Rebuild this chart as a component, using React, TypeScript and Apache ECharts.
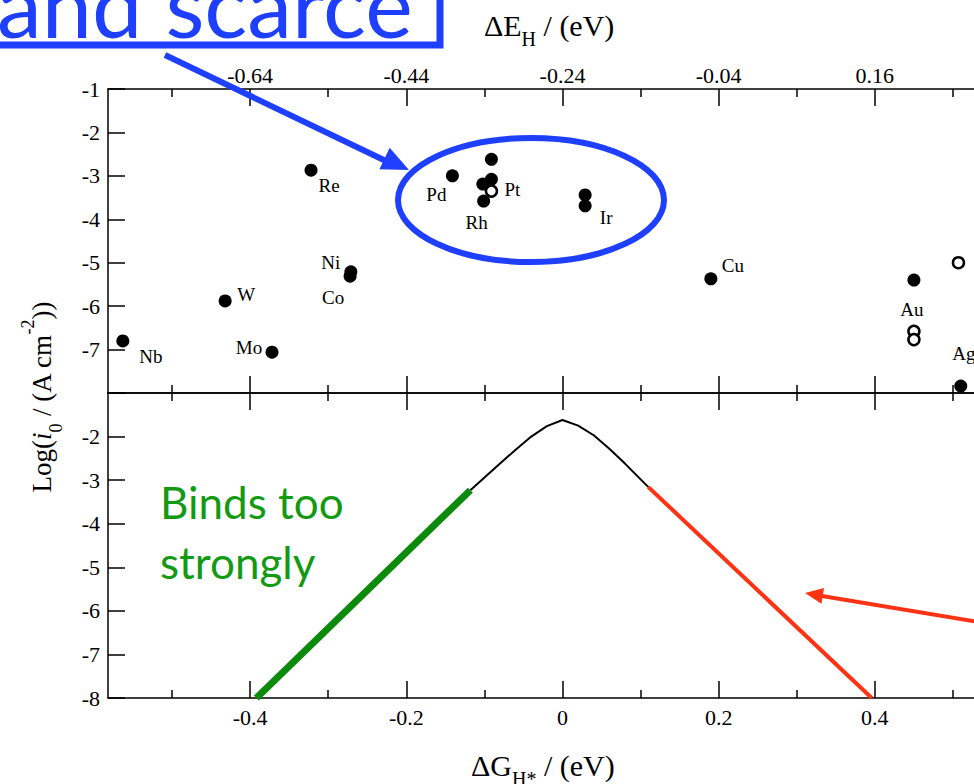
import React, { useEffect, useRef } from 'react';
import * as echarts from 'echarts';

// ---------- data ----------
const xMajorTicks = [-0.4, -0.2, 0, 0.2, 0.4];
const xMinorTicks = [-0.5, -0.3, -0.1, 0.1, 0.3, 0.5];
const topAxisShift = -0.24; // ΔE_H = ΔG_H* - 0.24

const filledNames = ['Nb', 'W', 'Mo', 'Re', 'Ni', 'Co', 'Pd', 'Pt', 'Pt', 'Pt', 'Rh', 'Ir', 'Ir', 'Cu', 'Au', 'Ag'];
const filledDG = [-0.563, -0.432, -0.372, -0.322, -0.271, -0.272, -0.141, -0.091, -0.091, -0.102, -0.101, 0.029, 0.029, 0.19, 0.45, 0.51];
const filledLogI0 = [-6.8, -5.88, -7.06, -2.87, -5.21, -5.31, -3.0, -2.62, -3.08, -3.19, -3.58, -3.44, -3.69, -5.37, -5.4, -7.84];
const filledLabeled = [true, true, true, true, true, true, true, false, false, false, true, false, true, true, true, true];

const openNames = ['Pt', 'Au', 'Au', ''];
const openDG = [-0.091, 0.45, 0.45, 0.507];
const openLogI0 = [-3.35, -6.58, -6.77, -5.0];
const openLabeled = [true, false, false, false];

const volcanoDG = [-0.118, -0.08, -0.06, -0.04, -0.02, 0, 0.02, 0.04, 0.06, 0.08, 0.11];
const volcanoLog = [-3.23, -2.62, -2.3, -2.0, -1.76, -1.62, -1.75, -1.97, -2.28, -2.62, -3.16];
const strongDG = [-0.392, -0.118];
const strongLog = [-8, -3.23];
const weakDG = [0.11, 0.396];
const weakLog = [-3.16, -8];

// ---------- styles ----------
const labelOffsets: Record<string, number[]> = {
  Nb: [28, 16], W: [21, -6], Mo: [-23, -5], Re: [18, 15], Ni: [-20, -9], Co: [-17, 21],
  Pd: [-16, 19], Rh: [-7, 21], Ir: [21, 12], Cu: [22, -13], Au: [-2, 29], Ag: [3, -33], Pt: [21, -2],
};
const SERIF = '"Liberation Serif", "Times New Roman", serif';
const BLUE = '#1f3fff';
const RED = '#ff3214';
const GREEN_LINE = '#0c8a0c';
const GREEN_TEXT = '#139a13';
const X_MIN = -0.582;
const X_MAX = 0.582;
const TICK_FONT = 22;

const lineStyle = { color: '#000', width: 1.5 };

function xAxisPair(gridIndex: number, position: 'top' | 'bottom', labels: boolean, formatter?: (v: number) => string) {
  return [
    {
      type: 'value', gridIndex, position, min: X_MIN, max: X_MAX,
      axisLine: { show: true, onZero: false, lineStyle },
      axisTick: { show: true, inside: true, length: 17, customValues: xMajorTicks, lineStyle },
      axisLabel: {
        show: labels, customValues: xMajorTicks, formatter, color: '#000',
        fontFamily: SERIF, fontSize: TICK_FONT, margin: position === 'top' ? 3 : 8,
      },
      splitLine: { show: false },
    },
    {
      type: 'value', gridIndex, position, min: X_MIN, max: X_MAX,
      axisLine: { show: false, onZero: false },
      axisTick: { show: true, inside: true, length: 8, customValues: xMinorTicks, lineStyle },
      axisLabel: { show: false, customValues: xMinorTicks },
      splitLine: { show: false },
    },
  ];
}

function yAxis(gridIndex: number, hide: number) {
  return {
    type: 'value', gridIndex, position: 'left', min: -8, max: -1, interval: 1,
    axisLine: { show: true, onZero: false, lineStyle },
    axisTick: { show: true, inside: true, length: 17, lineStyle },
    axisLabel: {
      color: '#000', fontFamily: SERIF, fontSize: TICK_FONT, margin: 8,
      formatter: (v: number) => (v === hide ? '' : String(v)),
    },
    splitLine: { show: false },
  };
}

function arrowHead(tx: number, ty: number, fx: number, fy: number, len: number, half: number) {
  const dx = tx - fx, dy = ty - fy;
  const d = Math.hypot(dx, dy);
  const ux = dx / d, uy = dy / d;
  const bx = tx - ux * len, by = ty - uy * len;
  return [[tx, ty], [bx - uy * half, by + ux * half], [bx + uy * half, by - ux * half]];
}

const titleRich = {
  n: { fontFamily: SERIF, fontSize: 30, lineHeight: 48, fill: '#000' },
  s: { fontFamily: SERIF, fontSize: 20, lineHeight: 20, verticalAlign: 'bottom', fill: '#000' },
};

export default function App() {
  const ref = useRef<HTMLDivElement>(null);

  useEffect(() => {
    if (!ref.current) return;
    const chart = echarts.init(ref.current, null, { renderer: 'svg' });

    const filledData = filledNames.map((n, i) => ({
      value: [filledDG[i], filledLogI0[i]],
      label: filledLabeled[i] ? { show: true, formatter: n, offset: labelOffsets[n] } : { show: false },
    }));
    const openData = openNames.map((n, i) => ({
      value: [openDG[i], openLogI0[i]],
      label: openLabeled[i] ? { show: true, formatter: n, offset: labelOffsets[n] } : { show: false },
    }));
    const zip = (a: number[], b: number[]) => a.map((v, i) => [v, b[i]]);

    const pointLabel = {
      show: false, position: 'inside', color: '#000', fontFamily: SERIF, fontSize: 19,
    };

    const blueArrowFrom = [165, 55];
    const blueArrowTo = [409, 170];
    const redArrowFrom = [990, 624];
    const redArrowTo = [805, 593];

    const option: any = {
      animation: false,
      backgroundColor: '#fff',
      grid: [
        { left: 108, right: 83, top: 89, height: 304 },
        { left: 108, right: 83, top: 393, height: 305 },
      ],
      xAxis: [
        ...xAxisPair(0, 'bottom', false),
        ...xAxisPair(0, 'top', true, (v: number) => (v + topAxisShift).toFixed(2)),
        ...xAxisPair(1, 'bottom', true, (v: number) => (v === 0 ? '0' : String(v))),
        ...xAxisPair(1, 'top', false),
      ],
      yAxis: [yAxis(0, -8), yAxis(1, -1)],
      series: [
        {
          type: 'scatter', xAxisIndex: 0, yAxisIndex: 0, symbol: 'circle', symbolSize: 13, clip: false,
          itemStyle: { color: '#000', opacity: 1 }, label: pointLabel, data: filledData, z: 3,
        },
        {
          type: 'scatter', xAxisIndex: 0, yAxisIndex: 0, symbol: 'circle', symbolSize: 11, clip: false,
          itemStyle: { color: '#fff', borderColor: '#000', borderWidth: 2.5, opacity: 1 }, label: pointLabel, data: openData, z: 4,
        },
        {
          type: 'line', xAxisIndex: 4, yAxisIndex: 1, showSymbol: false, symbol: 'none', clip: false,
          lineStyle: { color: '#000', width: 2 }, data: zip(volcanoDG, volcanoLog),
        },
        {
          type: 'line', xAxisIndex: 4, yAxisIndex: 1, showSymbol: false, symbol: 'none', clip: false,
          lineStyle: { color: GREEN_LINE, width: 7 }, data: zip(strongDG, strongLog),
        },
        {
          type: 'line', xAxisIndex: 4, yAxisIndex: 1, showSymbol: false, symbol: 'none', clip: false,
          lineStyle: { color: RED, width: 4 }, data: zip(weakDG, weakLog),
        },
      ],
      graphic: [
        // blue callout box with clipped text
        {
          type: 'rect', shape: { x: -40, y: -80, width: 480, height: 125 },
          style: { fill: 'none', stroke: BLUE, lineWidth: 7 }, z: 10,
        },
        {
          type: 'text', x: -3, y: 3,
          style: {
            text: 'and scarce', fill: BLUE, font: '90px Lato, "Open Sans", sans-serif',
            align: 'left', verticalAlign: 'middle', textAlign: 'left', textVerticalAlign: 'middle',
          },
          z: 10,
        },
        {
          type: 'line',
          shape: { x1: blueArrowFrom[0], y1: blueArrowFrom[1], x2: 388, y2: 162 },
          style: { stroke: BLUE, lineWidth: 6 }, z: 10,
        },
        {
          type: 'polygon',
          shape: { points: arrowHead(blueArrowTo[0], blueArrowTo[1], blueArrowFrom[0], blueArrowFrom[1], 27, 12) },
          style: { fill: BLUE }, z: 10,
        },
        {
          type: 'ellipse', shape: { cx: 531, cy: 200, rx: 133, ry: 62 },
          style: { fill: 'none', stroke: BLUE, lineWidth: 6 }, z: 10,
        },
        // red arrow
        {
          type: 'line',
          shape: { x1: redArrowFrom[0], y1: redArrowFrom[1], x2: 822, y2: 596 },
          style: { stroke: RED, lineWidth: 4 }, z: 10,
        },
        {
          type: 'polygon',
          shape: { points: arrowHead(redArrowTo[0], redArrowTo[1], redArrowFrom[0], redArrowFrom[1], 18, 8) },
          style: { fill: RED }, z: 10,
        },
        // green annotation
        {
          type: 'text', x: 160, y: 472,
          style: {
            text: 'Binds too\nstrongly', fill: GREEN_TEXT, font: '44px Lato, "Open Sans", sans-serif',
            lineHeight: 60, align: 'left', verticalAlign: 'top', textAlign: 'left', textVerticalAlign: 'top',
          },
          z: 10,
        },
        // axis titles
        {
          type: 'text', x: 484, y: 25,
          style: {
            text: '{n|ΔE}{s|H}{n| / (eV)}', fill: '#000', align: 'left', verticalAlign: 'middle',
            textAlign: 'left', textVerticalAlign: 'middle', rich: titleRich,
          },
        },
        {
          type: 'text', x: 471, y: 765,
          style: {
            text: '{n|ΔG}{s|H*}{n| / (eV)}', fill: '#000', align: 'left', verticalAlign: 'middle',
            textAlign: 'left', textVerticalAlign: 'middle', rich: titleRich,
          },
        },
        {
          type: 'text', x: 42, y: 397, rotation: Math.PI / 2,
          style: {
            text: '{n|Log(}{i|i}{s|0}{n| / (A cm}{p|-2}{n|))}', fill: '#000', align: 'center', verticalAlign: 'middle',
            textAlign: 'center', textVerticalAlign: 'middle',
            rich: {
              n: { fontFamily: SERIF, fontSize: 27, lineHeight: 46, fill: '#000' },
              i: { fontFamily: SERIF, fontStyle: 'italic', fontSize: 27, lineHeight: 46, fill: '#000' },
              s: { fontFamily: SERIF, fontSize: 18, lineHeight: 18, verticalAlign: 'bottom', fill: '#000' },
              p: { fontFamily: SERIF, fontSize: 18, lineHeight: 18, verticalAlign: 'top', fill: '#000' },
            },
          },
        },
      ],
    };

    chart.setOption(option);
    return () => chart.dispose();
  }, []);

  return (
    <div style={{ position: 'fixed', left: 0, top: 0, width: 974, height: 784, overflow: 'hidden', background: '#fff' }}>
      <div ref={ref} style={{ width: 1100, height: 784 }} />
    </div>
  );
}
